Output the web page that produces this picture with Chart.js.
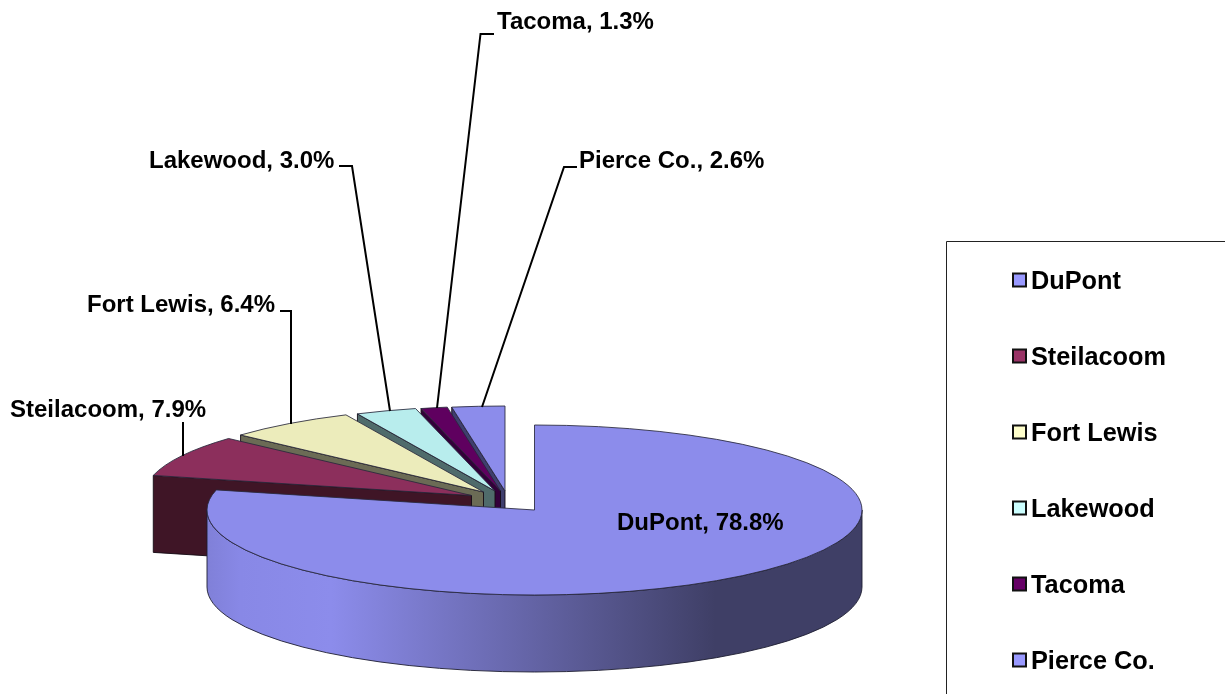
<!DOCTYPE html>
<html>
<head>
<meta charset="utf-8">
<script src="https://cdn.jsdelivr.net/npm/chart.js@4/dist/chart.umd.min.js"></script>
<style>
html,body{margin:0;padding:0;background:#fff;overflow:hidden}
#wrap{position:relative;width:1225px;height:694px}
</style>
</head>
<body>
<div id="wrap"><canvas id="c" width="1225" height="694"></canvas></div>
<script>
const categories = ["DuPont", "Steilacoom", "Fort Lewis", "Lakewood", "Tacoma", "Pierce Co."];
const shares = [78.8, 7.9, 6.4, 3.0, 1.3, 2.6];

/* styles */
const topColors = ["#8C8CEB", "#8C2F5C", "#ECECBB", "#B8EDED", "#5F005F", "#8C8CEB"];
const faceColors = [null, "#3F1526", "#6B6B55", "#4F6B6B", "#33003A", "#3F3F6E"];
const legendColors = ["#9999FF", "#993366", "#FFFFCC", "#CCFFFF", "#660066", "#9999FF"];

/* layout: where each exploded slice's apex lands, the tilt and the depth */
const view = {
  tilt: 85 / 327.5, depth: 77,
  apex: [[534.5,510],[471.5,495.5],[483.5,492],[495,491],[500.5,491],[505,491]],
  font: 'bold 24px "Liberation Sans", Arial, sans-serif',
  legendFont: 'bold 25.3px "Liberation Sans", Arial, sans-serif'
};
const callouts = [
  {x:617, y:523, path:[]},
  {x:10,  y:410, path:[[183,422],[183,456]]},
  {x:87,  y:305, path:[[280,311],[291,311],[291,424]]},
  {x:149, y:161, path:[[339,166],[352,166],[390,411]]},
  {x:497, y:22,  path:[[494,34],[480.5,34],[437,408]]},
  {x:579, y:161, path:[[577,167],[564,167],[482,407]]}
];
const legendBox = {x:946.5, y:241.5, firstY:282, stepY:76, swatchX:1013, textX:1031};

function drawPie(chart){
  const ctx = chart.ctx;
  const arcs = chart.getDatasetMeta(0).data;
  const R = arcs[0].outerRadius, ry = R * view.tilt, d = view.depth;
  const outline = "rgba(40,40,60,0.85)";

  /* back to front: last slices first, DuPont last */
  for (let i = arcs.length - 1; i >= 0; i--){
    const arc = arcs[i];
    const [ax, ay] = view.apex[i];
    const a0 = arc.startAngle, a1 = arc.endAngle;

    if (i > 0){
      /* cut face on the slice's front edge */
      const cxp = ax + R * Math.cos(a0), cyp = ay + ry * Math.sin(a0);
      ctx.beginPath();
      ctx.moveTo(cxp, cyp); ctx.lineTo(ax, ay); ctx.lineTo(ax, ay + d); ctx.lineTo(cxp, cyp + d);
      ctx.closePath();
      ctx.fillStyle = faceColors[i]; ctx.fill();
      ctx.strokeStyle = "rgba(20,10,20,0.9)"; ctx.lineWidth = 1; ctx.stroke();
    }

    /* the outer wall, only the part facing the viewer */
    const w0 = Math.max(0, a0), w1 = Math.min(Math.PI, a1);
    if (w1 > w0){
      const g = ctx.createLinearGradient(ax - R, 0, ax + R, 0);
      g.addColorStop(0, "#8080D8");
      g.addColorStop(0.05, "#8888E6");
      g.addColorStop(0.19, "#8C8CEB");
      g.addColorStop(0.776, "#3F3F66");
      g.addColorStop(1, "#3F3F66");
      ctx.beginPath();
      ctx.ellipse(ax, ay, R, ry, 0, w0, w1, false);
      ctx.ellipse(ax, ay + d, R, ry, 0, w1, w0, true);
      ctx.closePath();
      ctx.fillStyle = g; ctx.fill();
      ctx.strokeStyle = "rgba(30,30,50,0.9)"; ctx.lineWidth = 1; ctx.stroke();
    }

    /* top surface: the library's own arc element under a tilt transform */
    ctx.save();
    ctx.translate(ax, ay);
    ctx.scale(1, view.tilt);
    ctx.translate(-arc.x, -arc.y);
    arc.draw(ctx);
    ctx.restore();

    ctx.beginPath();
    ctx.moveTo(ax, ay);
    ctx.ellipse(ax, ay, R, ry, 0, a0, a1, false);
    ctx.closePath();
    ctx.strokeStyle = outline; ctx.lineWidth = 1; ctx.stroke();
  }
}

function drawText(chart){
  const ctx = chart.ctx;
  ctx.save();
  ctx.fillStyle = "#000"; ctx.strokeStyle = "#000"; ctx.lineWidth = 2;
  ctx.textBaseline = "middle"; ctx.textAlign = "left";
  ctx.font = view.font;
  categories.forEach((name, i) => {
    const c = callouts[i];
    ctx.fillText(name + ", " + shares[i].toFixed(1) + "%", c.x, c.y);
    if (c.path.length){
      ctx.beginPath();
      c.path.forEach((p, j) => j ? ctx.lineTo(p[0], p[1]) : ctx.moveTo(p[0], p[1]));
      ctx.stroke();
    }
  });

  /* legend */
  ctx.lineWidth = 1; ctx.strokeStyle = "#222";
  ctx.beginPath();
  ctx.moveTo(1225, legendBox.y); ctx.lineTo(legendBox.x, legendBox.y); ctx.lineTo(legendBox.x, 694);
  ctx.stroke();
  ctx.font = view.legendFont;
  categories.forEach((name, i) => {
    const y = legendBox.firstY + i * legendBox.stepY;
    ctx.fillStyle = legendColors[i];
    ctx.fillRect(legendBox.swatchX, y - 8.5, 13, 13);
    ctx.strokeStyle = "#111"; ctx.lineWidth = 2;
    ctx.strokeRect(legendBox.swatchX, y - 8.5, 13, 13);
    ctx.fillStyle = "#000";
    ctx.fillText(name, legendBox.textX, y);
  });
  ctx.restore();
}

new Chart(document.getElementById("c"), {
  type: "pie",
  data: {
    labels: categories,
    datasets: [{ data: shares, backgroundColor: topColors, borderWidth: 0 }]
  },
  options: {
    responsive: false,
    animation: false,
    radius: 327.5,
    layout: { padding: 0 },
    plugins: { legend: { display: false }, tooltip: { enabled: false } }
  },
  plugins: [{
    id: "tiltedPie",
    beforeDatasetDraw(chart){ drawPie(chart); return false; },
    afterDraw(chart){ drawText(chart); }
  }]
});
</script>
</body>
</html>
